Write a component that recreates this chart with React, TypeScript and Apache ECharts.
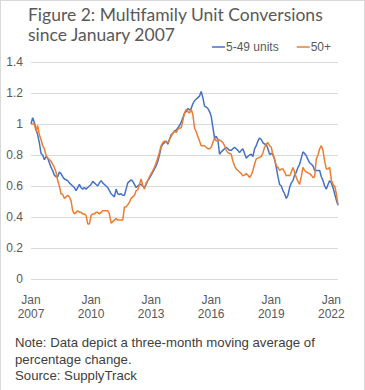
import React, { useEffect, useRef } from "react";
import * as echarts from "echarts";

const startYear = 2007;
const monthCount = 185;

const units549: number[] = [
  1.0, 1.04, 1.01, 0.97, 0.93, 0.88, 0.81, 0.8, 0.77, 0.79, 0.78, 0.75, 0.72, 0.7, 0.67, 0.66, 0.66, 0.69, 0.68, 0.66,
  0.645, 0.64, 0.635, 0.62, 0.61, 0.6, 0.59, 0.57, 0.59, 0.61, 0.59, 0.58, 0.59, 0.58, 0.59, 0.6, 0.61, 0.63, 0.62, 0.61,
  0.6, 0.62, 0.635, 0.62, 0.61, 0.6, 0.59, 0.57, 0.55, 0.54, 0.53, 0.58, 0.55, 0.545, 0.55, 0.54, 0.54, 0.58, 0.62, 0.63,
  0.64, 0.63, 0.61, 0.59, 0.6, 0.61, 0.61, 0.6, 0.59, 0.61, 0.635, 0.65, 0.67, 0.69, 0.71, 0.73, 0.76, 0.8, 0.85, 0.87,
  0.88, 0.89, 0.87, 0.9, 0.93, 0.94, 0.955, 0.96, 0.975, 0.99, 1.01, 1.04, 1.07, 1.08, 1.1, 1.09, 1.1, 1.13, 1.15, 1.16,
  1.17, 1.18, 1.21, 1.17, 1.115, 1.11, 1.1, 1.08, 1.05, 0.98, 0.91, 0.92, 0.9, 0.805, 0.82, 0.83, 0.84, 0.85, 0.84, 0.83,
  0.83, 0.84, 0.85, 0.84, 0.83, 0.815, 0.83, 0.84, 0.81, 0.78, 0.79, 0.8, 0.805, 0.79, 0.84, 0.86, 0.89, 0.91, 0.9, 0.88,
  0.87, 0.87, 0.84, 0.805, 0.81, 0.805, 0.77, 0.72, 0.66, 0.61, 0.6, 0.57, 0.55, 0.52, 0.54, 0.59, 0.62, 0.635, 0.67, 0.69,
  0.72, 0.74, 0.78, 0.82, 0.81, 0.795, 0.77, 0.75, 0.74, 0.73, 0.7, 0.7, 0.7, 0.7, 0.66, 0.635, 0.6, 0.58, 0.61, 0.635,
  0.62, 0.59, 0.55, 0.51, 0.475,
];

const units50plus: number[] = [
  1.0, 1.0, 1.0, 0.955, 0.99, 0.93, 0.9, 0.86, 0.84, 0.8, 0.78, 0.77, 0.76, 0.74, 0.72, 0.69, 0.635, 0.6, 0.55, 0.545,
  0.52, 0.53, 0.54, 0.53, 0.505, 0.44, 0.42, 0.43, 0.44, 0.43, 0.43, 0.42, 0.42, 0.41, 0.355, 0.355, 0.41, 0.42, 0.42, 0.43,
  0.43, 0.42, 0.43, 0.44, 0.44, 0.44, 0.44, 0.42, 0.36, 0.37, 0.38, 0.39, 0.38, 0.38, 0.38, 0.38, 0.465, 0.465, 0.48, 0.495,
  0.52, 0.53, 0.54, 0.57, 0.575, 0.61, 0.645, 0.6, 0.58, 0.62, 0.635, 0.66, 0.68, 0.7, 0.72, 0.75, 0.78, 0.82, 0.86, 0.88,
  0.89, 0.88, 0.88, 0.9, 0.92, 0.94, 0.955, 0.945, 0.965, 0.975, 0.975, 1.02, 1.07, 1.095, 1.08, 1.07, 1.095, 1.06, 0.975, 0.95,
  0.92, 0.89, 0.86, 0.86, 0.86, 0.85, 0.84, 0.84, 0.85, 0.88, 0.91, 0.89, 0.9, 0.895, 0.89, 0.88, 0.86, 0.83, 0.815, 0.81,
  0.805, 0.76, 0.73, 0.71, 0.7, 0.69, 0.68, 0.665, 0.67, 0.68, 0.67, 0.655, 0.67, 0.7, 0.74, 0.775, 0.78, 0.785, 0.79, 0.815,
  0.85, 0.87, 0.88, 0.86, 0.85, 0.8, 0.775, 0.73, 0.72, 0.7, 0.71, 0.71, 0.69, 0.665, 0.67, 0.665, 0.69, 0.72, 0.69, 0.655,
  0.63, 0.61, 0.66, 0.72, 0.7, 0.69, 0.685, 0.68, 0.67, 0.655, 0.66, 0.775, 0.8, 0.84, 0.86, 0.83, 0.76, 0.71, 0.71, 0.72,
  0.64, 0.61, 0.6, 0.55, 0.48,
];

const monthNames = ["Jan", "Feb", "Mar", "Apr", "May", "Jun", "Jul", "Aug", "Sep", "Oct", "Nov", "Dec"];
const categories: string[] = Array.from({ length: monthCount }, (_, i) => {
  const y = startYear + Math.floor(i / 12);
  return monthNames[i % 12] + "\n" + y;
});

const seriesNames = ["5-49 units", "50+"];
const seriesColors = ["#4472C4", "#ED7D31"];

export default function App() {
  const ref = useRef<HTMLDivElement>(null);
  useEffect(() => {
    document.body.style.margin = "0";
    if (!ref.current) return;
    const chart = echarts.init(ref.current, undefined, { renderer: "svg" });
    const font = "'Liberation Sans', Arial, sans-serif";
    chart.setOption({
      animation: false,
      backgroundColor: "#ffffff",
      title: {
        text: "Figure 2: Multifamily Unit Conversions\nsince January 2007",
        left: 22,
        top: -2,
        textStyle: {
          fontFamily: "Lato, sans-serif",
          fontSize: 17.5,
          fontWeight: "normal",
          color: "#595959",
          lineHeight: 20,
        },
      },
      legend: {
        data: seriesNames,
        left: 206,
        top: 35,
        icon: "rect",
        itemWidth: 13,
        itemHeight: 1.5,
        itemGap: 18,
        textStyle: { fontFamily: font, fontSize: 12, color: "#595959", padding: [0, 0, 0, -4] },
      },
      grid: { left: 30, right: 26, top: 61, bottom: 111, containLabel: false },
      xAxis: {
        type: "category",
        data: categories,
        boundaryGap: false,
        axisLine: { show: false },
        axisTick: { show: false },
        splitLine: { show: false },
        axisLabel: {
          interval: (i: number) => i % 36 === 0,
          margin: 14,
          fontFamily: font,
          fontSize: 12,
          lineHeight: 14,
          color: "#595959",
        },
      },
      yAxis: {
        type: "value",
        min: 0,
        max: 1.4,
        interval: 0.2,
        axisLine: { show: false },
        axisTick: { show: false },
        splitLine: { lineStyle: { color: "#d9d9d9", width: 1 } },
        axisLabel: {
          margin: 8,
          fontFamily: font,
          fontSize: 12,
          color: "#595959",
          formatter: (v: number) => String(Math.round(v * 10) / 10),
        },
      },
      series: [
        {
          name: seriesNames[0],
          type: "line",
          data: units549,
          showSymbol: false,
          lineStyle: { color: seriesColors[0], width: 1.5 },
          itemStyle: { color: seriesColors[0] },
        },
        {
          name: seriesNames[1],
          type: "line",
          data: units50plus,
          showSymbol: false,
          lineStyle: { color: seriesColors[1], width: 1.5 },
          itemStyle: { color: seriesColors[1] },
        },
      ],
      graphic: [
        {
          type: "text",
          left: 14,
          top: 333,
          style: {
            text: "Note: Data depict a three-month moving average of\npercentage change.",
            font: "13.2px 'Liberation Sans', Arial, sans-serif",
            fill: "#404040",
            lineHeight: 17,
          },
        },
        {
          type: "text",
          left: 14,
          top: 366,
          style: {
            text: "Source: SupplyTrack",
            font: "13.2px 'Liberation Sans', Arial, sans-serif",
            fill: "#404040",
            lineHeight: 17,
          },
        },
      ],
    });
    return () => chart.dispose();
  }, []);
  return (
    <div
      ref={ref}
      style={{ width: 363, height: 389, border: "1px solid #d9d9d9", boxSizing: "content-box", background: "#fff" }}
    />
  );
}
